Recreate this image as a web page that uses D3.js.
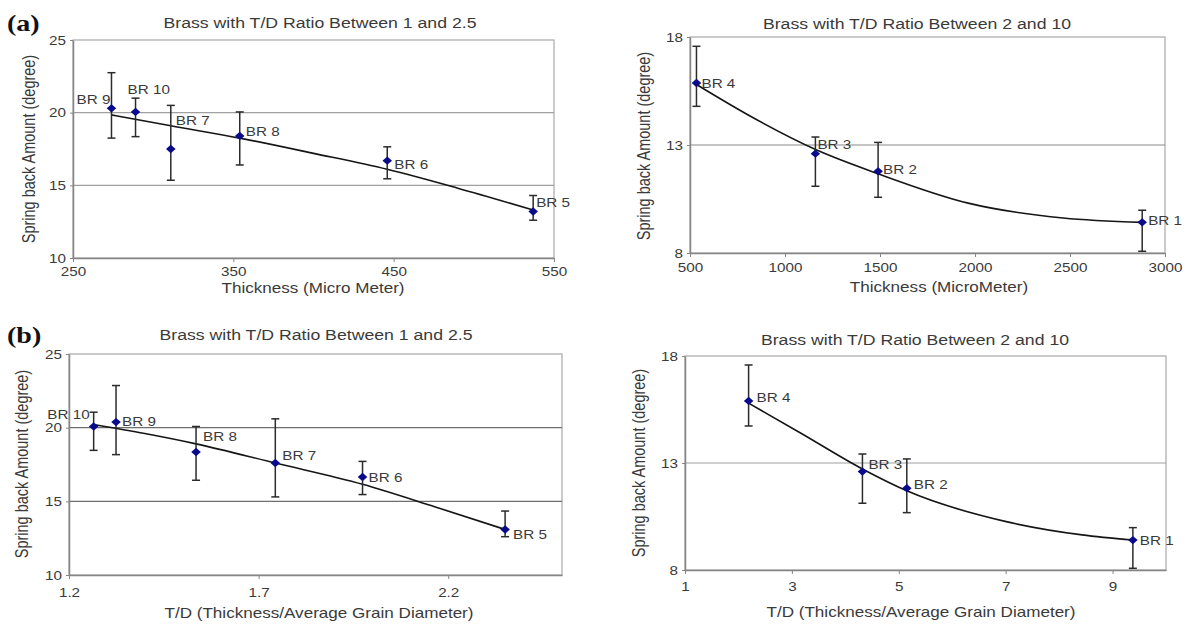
<!DOCTYPE html>
<html>
<head>
<meta charset="utf-8">
<script src="https://cdn.jsdelivr.net/npm/d3@7"></script>
<style>
    body { margin: 0; background: #fff; }
    text { font-family: "Liberation Sans", Arial, sans-serif; fill: #3a3a3a; }
</style>
</head>
<body>
<svg id="chart" width="1185" height="624"></svg>
<script>
// Panel (a) left: spring back vs thickness, T/D 1 - 2.5
const aLeftNames = ["BR 9", "BR 10", "BR 7", "BR 8", "BR 6", "BR 5"];
const aLeftX = [274, 289, 311, 354, 446, 537];
const aLeftY = [20.3, 20.05, 17.5, 18.4, 16.7, 13.2];
const aLeftHi = [22.75, 21.0, 20.5, 20.05, 17.65, 14.3];
const aLeftLo = [18.25, 18.35, 15.35, 16.4, 15.45, 12.6];
const aLeftTrendX = [274, 311, 354, 400, 446, 490, 537];
const aLeftTrendY = [19.85, 19.1, 18.25, 17.2, 16.1, 14.8, 13.3];
const aLeftXTicks = [250, 350, 450, 550];

// Panel (a) right: spring back vs thickness, T/D 2 - 10
const aRightNames = ["BR 4", "BR 3", "BR 2", "BR 1"];
const aRightX = [534, 1160, 1490, 2880];
const aRightY = [15.87, 12.6, 11.78, 9.42];
const aRightHi = [17.57, 13.37, 13.12, 9.98];
const aRightLo = [14.79, 11.09, 10.58, 8.08];
const aRightTrendX = [534, 804, 1164, 1490, 1964, 2464, 2880];
const aRightTrendY = [15.8, 14.4, 12.78, 11.67, 10.31, 9.62, 9.42];
const aRightXTicks = [500, 1000, 1500, 2000, 2500, 3000];

// Panel (b) left: spring back vs T/D, T/D 1 - 2.5
const bLeftNames = ["BR 10", "BR 9", "BR 8", "BR 7", "BR 6", "BR 5"];
const bLeftX = [1.265, 1.324, 1.535, 1.744, 1.974, 2.35];
const bLeftY = [20.08, 20.38, 18.35, 17.6, 16.65, 13.09];
const bLeftHi = [21.05, 22.86, 20.08, 20.6, 17.71, 14.34];
const bLeftLo = [18.46, 18.17, 16.43, 15.3, 15.46, 12.6];
const bLeftTrendX = [1.265, 1.4, 1.535, 1.744, 1.974, 2.166, 2.35];
const bLeftTrendY = [20.22, 19.6, 18.9, 17.6, 16.16, 14.62, 13.09];
const bLeftXTicks = [1.2, 1.7, 2.2];

// Panel (b) right: spring back vs T/D, T/D 2 - 10
const bRightNames = ["BR 4", "BR 3", "BR 2", "BR 1"];
const bRightX = [2.19, 4.32, 5.15, 9.38];
const bRightY = [15.9, 12.6, 11.82, 9.4];
const bRightHi = [17.58, 13.42, 13.19, 9.98];
const bRightLo = [14.73, 11.12, 10.68, 8.08];
const bRightTrendX = [2.19, 3.17, 4.32, 5.15, 7.01, 8.43, 9.38];
const bRightTrendY = [15.8, 14.39, 12.72, 11.7, 10.26, 9.64, 9.4];
const bRightXTicks = [1, 3, 5, 7, 9];

const lowTdYTicks = [10, 15, 20, 25];
const highTdYTicks = [8, 13, 18];

const titleLow = "Brass with T/D Ratio Between 1 and 2.5";
const titleHigh = "Brass with T/D Ratio Between 2 and 10";
const yTitle = "Spring back Amount (degree)";

// the source figure is stretched sideways, so text is too
const SX = 1.22;

const svg = d3.select("#chart");

function stretchText(g, x, y, txt) {
    return g.append("text")
        .attr("transform", `translate(${x},${y}) scale(${SX},1)`)
        .text(txt);
}

function drawPanel(p) {
    const g = svg.append("g");
    const x = d3.scaleLinear().domain(p.xDomain).range([p.left, p.right]);
    const y = d3.scaleLinear().domain(p.yDomain).range([p.bottom, p.top]);

    // plot frame (top / right)
    g.append("rect")
        .attr("x", p.left).attr("y", p.top)
        .attr("width", p.right - p.left).attr("height", p.bottom - p.top)
        .attr("fill", "none")
        .attr("stroke", "#a8a8a8")
        .attr("stroke-width", 1.2);

    // horizontal gridlines
    g.selectAll(".grid")
        .data(p.yTicks.slice(1, -1))
        .enter()
        .append("line")
        .attr("x1", p.left).attr("x2", p.right)
        .attr("y1", d => y(d)).attr("y2", d => y(d))
        .attr("stroke", p.gridColor)
        .attr("stroke-width", 1.2);

    // x axis
    const xAxis = g.append("g")
        .attr("transform", `translate(0,${p.bottom})`)
        .call(d3.axisBottom(x).tickValues(p.xTicks).tickSize(4).tickSizeOuter(0).tickFormat(d => d));
    xAxis.selectAll("text")
        .attr("y", p.xLabelY)
        .attr("transform", `scale(${SX},1)`)
        .style("font-size", "12.5px");

    // y axis
    const yAxis = g.append("g")
        .attr("transform", `translate(${p.left},0)`)
        .call(d3.axisLeft(y).tickValues(p.yTicks).tickSize(3).tickSizeOuter(0));
    yAxis.selectAll("text")
        .attr("x", -7 / SX)
        .attr("transform", `scale(${SX},1)`)
        .style("font-size", "12.5px");

    [xAxis, yAxis].forEach(ax => {
        ax.select(".domain").attr("stroke", "#858585").attr("stroke-width", 1.5);
        ax.selectAll(".tick line").attr("stroke", "#858585");
        ax.selectAll("text").attr("fill", "#3a3a3a").style("font-family", "'Liberation Sans', Arial, sans-serif");
    });

    // trend line
    const trend = p.trendX.map((d, i) => [d, p.trendY[i]]);
    g.append("path")
        .datum(trend)
        .attr("fill", "none")
        .attr("stroke", "#151515")
        .attr("stroke-width", 1.6)
        .attr("d", d3.line().x(d => x(d[0])).y(d => y(d[1])).curve(d3.curveMonotoneX));

    // error bars
    p.xs.forEach((xv, i) => {
        const px = x(xv);
        const bar = g.append("g").attr("stroke", "#2b2b2b").attr("stroke-width", 1.5);
        bar.append("line").attr("x1", px).attr("x2", px).attr("y1", y(p.hi[i])).attr("y2", y(p.lo[i]));
        bar.append("line").attr("x1", px - 4).attr("x2", px + 4).attr("y1", y(p.hi[i])).attr("y2", y(p.hi[i]));
        bar.append("line").attr("x1", px - 4).attr("x2", px + 4).attr("y1", y(p.lo[i])).attr("y2", y(p.lo[i]));
    });

    // diamond markers
    g.selectAll(".pt")
        .data(p.xs)
        .enter()
        .append("path")
        .attr("d", d3.symbol(d3.symbolDiamond2).size(44))
        .attr("transform", (d, i) => `translate(${x(d)},${y(p.ys[i])}) scale(1.15,1)`)
        .attr("fill", "#0a0a8c");

    // point labels
    p.names.forEach((name, i) => {
        const off = p.labelOffsets[i];
        stretchText(g, x(p.xs[i]) + off[0], y(p.ys[i]) + off[1] + 4.5, name)
            .attr("text-anchor", off[2] || "start")
            .style("font-size", "12.5px");
    });

    // titles
    stretchText(g, p.titleX, p.titleY, p.title)
        .attr("text-anchor", "middle")
        .style("font-size", "14.5px");
    stretchText(g, p.xTitleX, p.xTitleY, p.xTitle)
        .attr("text-anchor", "middle")
        .style("font-size", "14px");
    g.append("text")
        .attr("transform", `translate(${p.yTitleX},${p.yTitleY}) scale(${SX},1) rotate(-90)`)
        .attr("text-anchor", "middle")
        .style("font-size", "14.5px")
        .text(yTitle);
}

drawPanel({
    names: aLeftNames, xs: aLeftX, ys: aLeftY, hi: aLeftHi, lo: aLeftLo,
    trendX: aLeftTrendX, trendY: aLeftTrendY,
    xDomain: [250, 550], yDomain: [10, 25], xTicks: aLeftXTicks, yTicks: lowTdYTicks,
    left: 73, right: 554, top: 40, bottom: 258, gridColor: "#a0a0a0", xLabelY: 9,
    title: titleLow, titleX: 320, titleY: 28,
    xTitle: "Thickness (Micro Meter)", xTitleX: 313, xTitleY: 293,
    yTitleX: 35, yTitleY: 149,
    labelOffsets: [[-1, -9, "end"], [-8, -22], [5, -29], [6, -4], [7, 4], [3, -9]]
});

drawPanel({
    names: aRightNames, xs: aRightX, ys: aRightY, hi: aRightHi, lo: aRightLo,
    trendX: aRightTrendX, trendY: aRightTrendY,
    xDomain: [500, 3000], yDomain: [8, 18], xTicks: aRightXTicks, yTicks: highTdYTicks,
    left: 690, right: 1165, top: 37, bottom: 253, gridColor: "#8a8a8a", xLabelY: 10,
    title: titleHigh, titleX: 917, titleY: 29,
    xTitle: "Thickness (MicroMeter)", xTitleX: 939, xTitleY: 292,
    yTitleX: 650, yTitleY: 146,
    labelOffsets: [[5, 0], [2, -9], [5, -2], [6, -2]]
});

drawPanel({
    names: bLeftNames, xs: bLeftX, ys: bLeftY, hi: bLeftHi, lo: bLeftLo,
    trendX: bLeftTrendX, trendY: bLeftTrendY,
    xDomain: [1.2, 2.5], yDomain: [10, 25], xTicks: bLeftXTicks, yTicks: lowTdYTicks,
    left: 69, right: 562, top: 354, bottom: 575, gridColor: "#6e6e6e", xLabelY: 13,
    title: titleLow, titleX: 316, titleY: 340,
    xTitle: "T/D (Thickness/Average Grain Diameter)", xTitleX: 319, xTitleY: 618,
    yTitleX: 28, yTitleY: 464,
    labelOffsets: [[-4, -12, "end"], [6, -1], [7, -15], [7, -8], [6, 0], [8, 5]]
});

drawPanel({
    names: bRightNames, xs: bRightX, ys: bRightY, hi: bRightHi, lo: bRightLo,
    trendX: bRightTrendX, trendY: bRightTrendY,
    xDomain: [1, 10], yDomain: [8, 18], xTicks: bRightXTicks, yTicks: highTdYTicks,
    left: 685, right: 1166, top: 356, bottom: 570, gridColor: "#a0a0a0", xLabelY: 12,
    title: titleHigh, titleX: 915, titleY: 345,
    xTitle: "T/D (Thickness/Average Grain Diameter)", xTitleX: 921, xTitleY: 617,
    yTitleX: 645, yTitleY: 463,
    labelOffsets: [[8, -3], [6, -7], [7, -4], [7, 0]]
});

// panel letters
[["(a)", 31], ["(b)", 343]].forEach(([txt, yy]) => {
    svg.append("text")
        .attr("transform", `translate(7,${yy}) scale(${SX},1)`)
        .style("font-family", "'Liberation Serif', 'Times New Roman', serif")
        .style("font-weight", "bold")
        .style("font-size", "23px")
        .style("fill", "#111")
        .text(txt);
});
</script>
</body>
</html>
